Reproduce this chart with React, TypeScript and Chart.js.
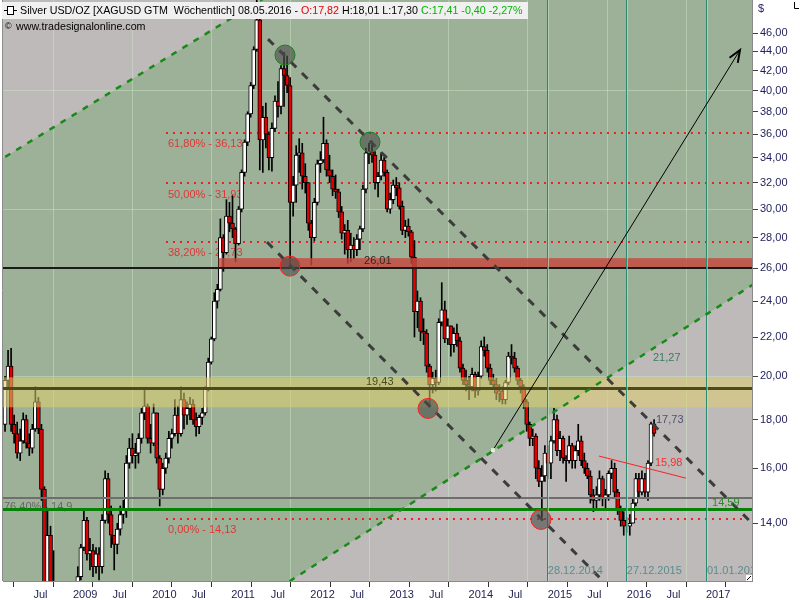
import React, { useEffect, useRef } from "react";
import { Chart, registerables } from "chart.js";

Chart.register(...registerables);

// ---- data: bi-weekly candles of Silver USD/OZ, first bar 22.02.2008 ----
const FIRST_BAR = 2008.141;
const BAR_STEP = 14 / 365.25;
const firstOpen = 17.8;

const highs = [
  20.0, 21.3, 21.4, 18.2, 17.9, 17.6, 18.3, 18.2, 17.4, 17.8,
  19.5, 19.0, 17.8, 15.3, 14.5, 13.9, 13.1, 12.0, 10.8, 10.3,
  10.5, 10.7, 11.3, 11.9, 12.6, 13.3, 14.5, 14.2, 13.5, 13.3,
  13.2, 13.2, 14.3, 15.9, 15.8, 14.6, 13.6, 14.0, 14.6, 14.8,
  16.5, 17.2, 17.4, 17.0, 17.4, 18.5, 19.4, 18.7, 17.8, 18.7,
  18.3, 16.5, 16.2, 16.6, 17.5, 17.6, 18.9, 18.6, 19.5, 19.2,
  18.8, 19.0, 18.9, 18.3, 18.2, 18.5, 19.5, 20.9, 22.0, 24.5,
  25.0, 29.3, 28.2, 30.7, 30.5, 31.0, 28.7, 30.2, 33.0, 35.5,
  38.0, 40.8, 44.5, 49.8, 48.5, 38.5, 38.8, 36.2, 37.0, 39.5,
  40.9, 42.5, 43.9, 43.5, 41.3, 32.5, 35.0, 35.6, 35.2, 33.5,
  32.0, 29.2, 30.8, 33.8, 34.5, 37.5, 35.5, 34.2, 33.0, 32.6,
  31.5, 30.2, 28.9, 29.2, 28.3, 28.0, 28.2, 28.8, 31.8, 34.8,
  35.2, 35.4, 34.5, 32.8, 34.4, 34.0, 33.0, 31.2, 32.2, 32.4,
  32.0, 30.6, 29.2, 29.3, 28.5, 27.8, 24.6, 24.2, 23.0, 22.4,
  20.6, 20.2, 20.3, 23.0, 25.1, 24.0, 23.0, 22.6, 22.5, 22.7,
  22.0, 20.6, 20.3, 20.0, 20.4, 20.2, 20.2, 21.8, 22.0, 21.6,
  20.6, 20.1, 19.9, 19.6, 19.5, 19.8, 21.2, 21.6, 21.2, 20.5,
  19.9, 19.6, 18.9, 17.9, 17.6, 17.4, 16.3, 16.1, 16.9, 16.9,
  17.3, 18.5, 18.2, 17.5, 17.3, 16.5, 17.3, 17.0, 16.9, 17.8,
  17.3, 16.6, 16.2, 15.9, 15.2, 15.3, 15.9, 15.7, 15.2, 15.9,
  16.3, 16.2, 15.2, 14.6, 14.4, 14.2, 14.3, 14.9, 15.8, 15.8,
  15.9, 15.8, 16.3, 17.9, 18.01,
];

const lows = [
  17.5, 19.5, 17.5, 17.0, 16.4, 16.3, 17.0, 16.8, 16.5, 16.6,
  17.5, 17.4, 14.8, 11.5, 11.9, 11.0, 11.0, 10.0, 8.8, 8.9,
  9.3, 9.6, 10.0, 10.8, 11.0, 12.2, 13.1, 12.8, 12.5, 12.3,
  12.4, 12.2, 12.4, 14.0, 14.0, 13.2, 12.5, 13.0, 13.6, 14.0,
  14.2, 16.0, 16.2, 16.0, 16.2, 17.0, 18.0, 17.0, 16.6, 16.9,
  16.2, 14.6, 15.0, 15.8, 16.2, 16.8, 17.3, 17.0, 17.3, 17.6,
  17.8, 18.0, 17.8, 17.3, 17.4, 17.8, 18.2, 19.3, 20.6, 21.8,
  23.6, 24.6, 25.8, 26.9, 28.4, 28.0, 26.4, 27.5, 29.8, 32.5,
  35.0, 37.5, 40.2, 44.0, 33.0, 32.8, 34.8, 33.0, 32.9, 36.2,
  37.5, 37.8, 38.5, 39.8, 26.1, 29.5, 30.5, 32.8, 31.5, 31.2,
  28.5, 26.2, 27.8, 30.3, 32.8, 33.6, 32.5, 32.0, 31.0, 30.8,
  29.4, 27.9, 26.9, 26.3, 26.4, 26.6, 26.8, 27.2, 28.4, 31.2,
  33.5, 33.6, 31.5, 30.9, 32.2, 32.5, 29.8, 29.7, 30.4, 31.0,
  30.0, 28.2, 28.0, 28.1, 26.3, 22.0, 22.5, 21.8, 21.6, 20.2,
  18.6, 19.2, 19.3, 19.6, 22.6, 21.7, 21.6, 21.0, 21.2, 21.5,
  20.2, 19.6, 19.3, 18.9, 19.3, 19.0, 19.1, 19.9, 21.0, 20.2,
  19.6, 19.4, 18.9, 18.8, 18.7, 18.7, 19.6, 20.6, 20.2, 19.6,
  19.2, 18.5, 17.5, 16.9, 16.9, 15.6, 15.3, 14.2, 15.5, 15.6,
  15.6, 17.0, 16.5, 16.3, 16.2, 15.5, 16.2, 16.0, 16.0, 16.5,
  16.1, 15.8, 15.6, 14.7, 14.4, 14.5, 14.8, 14.6, 14.5, 14.8,
  15.6, 14.9, 14.3, 13.9, 13.6, 13.7, 13.6, 14.0, 14.6, 14.9,
  15.0, 14.9, 14.8, 16.1, 17.3,
];

const closes = [
  19.8, 20.5, 17.8, 17.4, 16.6, 17.1, 18.0, 17.0, 16.8, 17.6,
  18.8, 17.6, 15.2, 12.0, 13.6, 11.4, 11.5, 10.5, 9.5, 9.8,
  9.9, 10.2, 11.0, 11.3, 12.3, 13.2, 14.1, 13.0, 13.1, 12.6,
  13.0, 12.6, 14.1, 15.6, 14.3, 13.6, 13.3, 13.8, 14.3, 14.5,
  16.2, 16.8, 16.5, 16.6, 17.2, 18.3, 18.6, 17.2, 17.0, 18.3,
  16.4, 15.2, 16.0, 16.4, 17.2, 17.4, 18.2, 17.4, 18.9, 18.2,
  18.5, 18.7, 18.0, 17.7, 18.1, 18.3, 19.4, 20.7, 21.9, 24.0,
  24.7, 28.0, 27.0, 29.5, 29.0, 28.6, 27.6, 30.0, 32.8, 35.3,
  37.8, 40.5, 44.2, 47.5, 35.5, 37.5, 36.0, 34.0, 36.5, 39.0,
  38.5, 42.2, 41.5, 40.5, 30.5, 31.8, 34.2, 34.4, 32.5, 32.0,
  29.0, 28.0, 30.5, 33.5, 33.8, 35.2, 33.0, 32.5, 31.5, 31.3,
  29.8, 28.3, 28.5, 27.2, 27.5, 27.2, 27.9, 28.6, 31.5, 34.4,
  34.5, 34.2, 32.0, 32.5, 33.8, 32.8, 30.0, 30.7, 31.8, 31.6,
  30.2, 28.5, 28.8, 28.4, 26.7, 23.4, 24.0, 22.3, 22.2, 20.5,
  19.6, 19.9, 19.7, 22.8, 23.5, 21.9, 22.6, 21.6, 22.2, 21.8,
  20.4, 19.8, 19.6, 19.5, 20.1, 19.3, 20.0, 21.5, 21.3, 20.4,
  19.8, 19.6, 19.2, 19.3, 18.9, 19.7, 21.0, 20.9, 20.4, 19.8,
  19.5, 18.8, 17.8, 17.2, 17.3, 16.0, 15.5, 15.7, 16.6, 16.2,
  17.1, 18.0, 16.7, 17.2, 16.4, 16.3, 16.9, 16.3, 16.7, 17.1,
  16.3, 16.0, 15.7, 15.0, 14.8, 15.0, 15.6, 14.9, 15.0, 15.8,
  16.0, 15.1, 14.5, 14.1, 13.9, 13.9, 14.0, 14.7, 15.6, 15.1,
  15.6, 15.1, 16.2, 17.82, 17.41,
];

// ---- axes ----
const X_MIN = 2008.1153;
const X_MAX = 2017.5814;
const Y_MIN = 12.17;
const Y_MAX = 49.84;
const timeTicks = [
  2008.5, 2009, 2009.5, 2010, 2010.5, 2011, 2011.5, 2012, 2012.5,
  2013, 2013.5, 2014, 2014.5, 2015, 2015.5, 2016, 2016.5, 2017,
];
const priceTicks = [14, 16, 18, 20, 22, 24, 26, 28, 30, 32, 34, 36, 38, 40, 42, 44, 46];
const gridPrices = [20, 30, 40];

// ---- drawing tools (date, price) ----
const fibValues = [36.13, 31.93, 27.73, 14.13];
const fibLabels = ["61,80% - 36,13", "50,00% - 31,93", "38,20% - 27,73", "0,00% - 14,13"];
const fibStart = 2010.175;
const supportLevel = 26.01;
const redBand = [26.01, 26.64];
const redBandStart = 2010.84;
const pivotLevel = 19.43;
const yellowBand = [18.55, 19.95];
const fib764Level = 14.9;
const greenLevel = 14.49;
const channelUpper = [[2011.4645, 45.33], [2017.5814, 14.0]];
const channelLower = [[2011.4519, 27.7], [2015.6856, 12.2]];
const greenUpper = [[2008.0774, 33.8], [2010.9842, 47.59]];
const greenLower = [[2011.7425, 12.17], [2017.5814, 24.95]];
const arrowLine = [[2014.3081, 16.72], [2017.4297, 44.14]];
const redTrend = [[2015.6477, 16.48], [2016.7472, 15.62]];
const greenCircles = [[2011.6793, 43.61], [2012.7536, 35.31]];
const redCircles = [[2011.7425, 26.13], [2013.4867, 18.5], [2014.9147, 14.13]];
const markerDates = [2014.988, 2015.986, 2017.0];
const markerLabels = ["28.12.2014", "27.12.2015", "01.01.2017"];
const noteTexts = ["26,01", "19,43", "21,27", "17,73", "15,98", "14,59"];
const notePos = [[2012.678, 26.45], [2012.703, 19.72], [2016.33, 20.9], [2016.368, 17.98], [2016.355, 16.2], [2017.076, 14.7]];
const noteColors = ["#2a2a2a", "#4a4a22", "#3b7a66", "#50506a", "#ff2a2a", "#2a8a2a"];

const FONT = '11px "Liberation Sans", Arial, sans-serif';
const HEADER_FONT = '10.7px "Liberation Sans", Arial, sans-serif';

export default function App() {
  const ref = useRef<HTMLCanvasElement>(null);

  useEffect(() => {
    const canvas = ref.current;
    if (!canvas) return;
    const dates = closes.map((_, i) => FIRST_BAR + i * BAR_STEP);
    const opens = closes.map((_, i) => (i === 0 ? firstOpen : closes[i - 1]));
    const bodies = closes.map((c, i) => ({ x: dates[i], y: [opens[i], c] }));
    const wicks = closes.map((_, i) => ({ x: dates[i], y: [lows[i], highs[i]] }));
    const bodyColors = closes.map((c, i) => (c >= opens[i] ? "#ffffff" : "#e00000"));

    const clipArea = (ctx: any, a: any) => {
      ctx.beginPath();
      ctx.rect(a.left, a.top, a.right - a.left, a.bottom - a.top);
      ctx.clip();
    };

    const overlay = {
      id: "overlay",
      beforeDraw(chart: any) {
        const { ctx, chartArea: a, scales } = chart;
        const xs = scales.x, ys = scales.y;
        const P = (p: number[]) => [xs.getPixelForValue(p[0]), ys.getPixelForValue(p[1])];
        ctx.save();
        ctx.fillStyle = "#ffffff";
        ctx.fillRect(0, 0, chart.width, chart.height);
        clipArea(ctx, a);
        ctx.fillStyle = "#bfbaba";
        ctx.fillRect(a.left, a.top, a.right - a.left, a.bottom - a.top);
        const u1 = P(greenUpper[0]), u2 = P(greenUpper[1]);
        const l1 = P(greenLower[0]), l2 = P(greenLower[1]);
        const yAt = (p1: number[], p2: number[], X: number) => p1[1] + ((p2[1] - p1[1]) * (X - p1[0])) / (p2[0] - p1[0]);
        const L = a.left - 20, R = a.right + 20;
        ctx.fillStyle = "#9db198";
        ctx.beginPath();
        ctx.moveTo(L, yAt(u1, u2, L));
        ctx.lineTo(R, yAt(u1, u2, R));
        ctx.lineTo(R, yAt(l1, l2, R));
        ctx.lineTo(L, yAt(l1, l2, L));
        ctx.closePath();
        ctx.fill();
        ctx.restore();
      },
      beforeDatasetsDraw(chart: any) {
        const { ctx, chartArea: a, scales } = chart;
        const px = (v: number) => scales.x.getPixelForValue(v);
        const py = (v: number) => scales.y.getPixelForValue(v);
        ctx.save();
        clipArea(ctx, a);
        // fibonacci levels (under the candles)
        ctx.strokeStyle = "#ee2020";
        ctx.lineWidth = 2;
        ctx.setLineDash([2, 5]);
        fibValues.forEach((v) => {
          const y = Math.round(py(v));
          ctx.beginPath();
          ctx.moveTo(px(fibStart), y);
          ctx.lineTo(a.right, y);
          ctx.stroke();
        });
        ctx.setLineDash([]);
        ctx.font = FONT;
        ctx.textBaseline = "middle";
        ctx.textAlign = "left";
        ctx.fillStyle = "#e03636";
        fibValues.forEach((v, i) => ctx.fillText(fibLabels[i], px(fibStart) + 2, py(v) + 11));
        ctx.fillStyle = "#666666";
        ctx.fillText("76,40% - 14,9", a.left + 1, py(14.56));
        ctx.restore();
      },
      afterDatasetsDraw(chart: any) {
        const { ctx, chartArea: a, scales } = chart;
        const xs = scales.x, ys = scales.y;
        const px = (v: number) => xs.getPixelForValue(v);
        const py = (v: number) => ys.getPixelForValue(v);
        const P = (p: number[]) => [px(p[0]), py(p[1])];
        const yAt = (p1: number[], p2: number[], X: number) => p1[1] + ((p2[1] - p1[1]) * (X - p1[0])) / (p2[0] - p1[0]);
        ctx.save();
        clipArea(ctx, a);
        const hline = (v: number, x0: number, color: string, w: number) => {
          const y = Math.round(py(v)) + (w % 2 ? 0.5 : 0);
          ctx.strokeStyle = color;
          ctx.lineWidth = w;
          ctx.beginPath();
          ctx.moveTo(x0, y);
          ctx.lineTo(a.right, y);
          ctx.stroke();
        };
        // bands
        ctx.fillStyle = "rgba(222,206,110,0.55)";
        ctx.fillRect(a.left, py(yellowBand[1]), a.right - a.left, py(yellowBand[0]) - py(yellowBand[1]));
        hline(pivotLevel, a.left, "#4a4a1c", 3);
        ctx.fillStyle = "rgba(200,70,60,0.8)";
        ctx.fillRect(px(redBandStart), py(redBand[1]), a.right - px(redBandStart), py(redBand[0]) - py(redBand[1]));
        hline(supportLevel, a.left, "#1a1a1a", 2);
        hline(fib764Level, a.left, "#6e6e6e", 2);
        hline(greenLevel, a.left, "#078207", 3);
        // vertical date markers
        markerDates.forEach((d) => {
          const x = Math.round(px(d)) + 0.5;
          ctx.strokeStyle = "#2a8a70";
          ctx.lineWidth = 1;
          ctx.beginPath();
          ctx.moveTo(x, a.top);
          ctx.lineTo(x, a.bottom);
          ctx.stroke();
          ctx.strokeStyle = "rgba(190,225,200,0.6)";
          ctx.beginPath();
          ctx.moveTo(x + 1, a.top);
          ctx.lineTo(x + 1, a.bottom);
          ctx.stroke();
        });
        // green dashed channel lines
        const L = a.left - 20, R = a.right + 20;
        [greenUpper, greenLower].forEach((ln) => {
          const p1 = P(ln[0]), p2 = P(ln[1]);
          ctx.strokeStyle = "#178a17";
          ctx.lineWidth = 2.5;
          ctx.setLineDash([6, 7]);
          ctx.beginPath();
          ctx.moveTo(L, yAt(p1, p2, L));
          ctx.lineTo(R, yAt(p1, p2, R));
          ctx.stroke();
        });
        // gray dashed trend channel
        [channelUpper, channelLower].forEach((ln, k) => {
          const p1 = P(ln[0]), p2 = P(ln[1]);
          const endX = k === 0 ? p2[0] : p2[0] + 30;
          ctx.strokeStyle = "#3c3c3c";
          ctx.lineWidth = 3;
          ctx.setLineDash([8, 8]);
          ctx.beginPath();
          ctx.moveTo(p1[0], p1[1]);
          ctx.lineTo(endX, yAt(p1, p2, endX));
          ctx.stroke();
        });
        ctx.setLineDash([]);
        // arrow
        const a1 = P(arrowLine[0]), a2 = P(arrowLine[1]);
        ctx.strokeStyle = "#000000";
        ctx.lineWidth = 1;
        ctx.beginPath();
        ctx.moveTo(a1[0], a1[1]);
        ctx.lineTo(a2[0], a2[1]);
        ctx.stroke();
        const ang = Math.atan2(a2[1] - a1[1], a2[0] - a1[0]);
        ctx.lineWidth = 2;
        ctx.beginPath();
        ctx.moveTo(a2[0] - 13 * Math.cos(ang - 0.38), a2[1] - 13 * Math.sin(ang - 0.38));
        ctx.lineTo(a2[0], a2[1]);
        ctx.lineTo(a2[0] - 13 * Math.cos(ang + 0.38), a2[1] - 13 * Math.sin(ang + 0.38));
        ctx.stroke();
        ctx.fillStyle = "#dff0d0";
        ctx.fillRect(a1[0] - 2, a1[1] - 2, 4, 4);
        // red trend line
        const r1 = P(redTrend[0]), r2 = P(redTrend[1]);
        ctx.strokeStyle = "#ff2020";
        ctx.lineWidth = 1;
        ctx.beginPath();
        ctx.moveTo(r1[0], r1[1]);
        ctx.lineTo(r2[0], r2[1]);
        ctx.stroke();
        // circles
        const circle = (p: number[], stroke: string) => {
          const c = P(p);
          ctx.beginPath();
          ctx.arc(c[0], c[1], 10, 0, Math.PI * 2);
          ctx.fillStyle = "rgba(75,78,75,0.62)";
          ctx.fill();
          ctx.strokeStyle = stroke;
          ctx.lineWidth = 1;
          ctx.stroke();
        };
        greenCircles.forEach((p) => circle(p, "#1f7f1f"));
        redCircles.forEach((p) => circle(p, "#ff2020"));
        // texts
        ctx.font = FONT;
        ctx.textBaseline = "middle";
        ctx.textAlign = "left";
        noteTexts.forEach((t, i) => {
          ctx.fillStyle = noteColors[i];
          ctx.fillText(t, px(notePos[i][0]), py(notePos[i][1]));
        });
        ctx.fillStyle = "#5a8c8c";
        markerDates.forEach((d, i) => ctx.fillText(markerLabels[i], px(d) + 1, py(12.46)));
        ctx.restore();
      },
      afterDraw(chart: any) {
        const { ctx, chartArea: a } = chart;
        ctx.save();
        // left border
        ctx.strokeStyle = "#8c8c8c";
        ctx.lineWidth = 1;
        ctx.beginPath();
        ctx.moveTo(a.left - 0.5, a.top);
        ctx.lineTo(a.left - 0.5, a.bottom);
        ctx.stroke();
        // header box
        ctx.fillStyle = "#f0f0f0";
        ctx.fillRect(2, 2, 526, 17);
        ctx.strokeStyle = "#000000";
        ctx.beginPath();
        ctx.moveTo(4, 10.5);
        ctx.lineTo(17, 10.5);
        ctx.stroke();
        ctx.fillStyle = "#ffffff";
        ctx.fillRect(7.5, 6.5, 6, 8);
        ctx.strokeRect(7.5, 6.5, 6, 8);
        ctx.font = HEADER_FONT;
        ctx.textBaseline = "middle";
        ctx.textAlign = "left";
        const parts: [string, string][] = [
          ["Silver USD/OZ [XAGUSD GTM  W\u00f6chentlich] 08.05.2016 - ", "#000000"],
          ["O:17,82", "#e00000"],
          [" H:18,01 L:17,30 ", "#000000"],
          ["C:17,41 -0,40 -2,27%", "#00b400"],
        ];
        let x = 20;
        parts.forEach(([t, c]) => {
          ctx.fillStyle = c;
          ctx.fillText(t, x, 11);
          x += ctx.measureText(t).width;
        });
        ctx.fillStyle = "#000000";
        ctx.font = '9px "Liberation Sans", Arial, sans-serif';
        ctx.fillText("\u00a9", 5, 27);
        ctx.font = HEADER_FONT;
        ctx.fillText("www.tradesignalonline.com", 16, 27.5);
        // $ sign
        ctx.font = FONT;
        ctx.fillStyle = "#1e1e5a";
        ctx.fillText("$", 758, 9);
        // small corner marks
        ctx.strokeStyle = "#000000";
        ctx.beginPath();
        ctx.moveTo(794.5, 2);
        ctx.lineTo(794.5, 8.5);
        ctx.lineTo(799, 8.5);
        ctx.stroke();
        ctx.fillStyle = "#ffffff";
        ctx.fillRect(a.right - 6, a.bottom - 6, 6, 6);
        ctx.beginPath();
        ctx.moveTo(a.right - 5, a.bottom - 1);
        ctx.lineTo(a.right - 1, a.bottom - 5);
        ctx.stroke();
        ctx.restore();
      },
    };

    const chart = new Chart(canvas, {
      type: "bar",
      data: {
        datasets: [
          {
            data: bodies as any,
            backgroundColor: bodyColors,
            borderColor: "#000000",
            borderWidth: 1,
            borderSkipped: false,
            barThickness: 4,
            grouped: false,
            order: 1,
          } as any,
          {
            data: wicks as any,
            backgroundColor: "#000000",
            borderWidth: 0,
            barThickness: 1,
            grouped: false,
            order: 2,
          } as any,
        ],
      },
      options: {
        responsive: false,
        animation: false,
        events: [],
        layout: { padding: { left: 3, top: 0, right: 0, bottom: 0 } },
        plugins: { legend: { display: false }, tooltip: { enabled: false } },
        scales: {
          x: {
            type: "linear",
            position: "bottom",
            min: X_MIN,
            max: X_MAX,
            offset: false,
            afterBuildTicks: (s: any) => {
              s.ticks = timeTicks.map((v) => ({ value: v }));
            },
            afterFit: (s: any) => {
              s.height = 19;
              s.paddingLeft = 0;
              s.paddingRight = 0;
            },
            ticks: {
              autoSkip: false,
              maxRotation: 0,
              minRotation: 0,
              align: "start",
              padding: 1,
              color: "#1e1e50",
              font: { family: '"Liberation Sans", Arial, sans-serif', size: 11 },
              callback: (v: any) => (Number.isInteger(Number(v)) ? String(v) : "Jul"),
            },
            grid: {
              color: (c: any) =>
                c.tick && Number.isInteger(c.tick.value) ? "rgba(205,235,200,0.45)" : "rgba(0,0,0,0)",
              tickColor: "#303030",
              tickLength: 6,
            },
            border: { color: "#8a8a8a" },
          } as any,
          y: {
            type: "logarithmic",
            position: "right",
            min: Y_MIN,
            max: Y_MAX,
            afterBuildTicks: (s: any) => {
              s.ticks = priceTicks.map((v) => ({ value: v }));
            },
            afterFit: (s: any) => {
              s.width = 48;
              s.paddingTop = 0;
              s.paddingBottom = 0;
            },
            ticks: {
              padding: 2,
              color: "#1e1e5a",
              font: { family: '"Liberation Sans", Arial, sans-serif', size: 11 },
              callback: (v: any) => Number(v).toFixed(2).replace(".", ","),
            },
            grid: {
              color: (c: any) =>
                c.tick && gridPrices.includes(c.tick.value) ? "rgba(205,235,200,0.45)" : "rgba(0,0,0,0)",
              tickColor: "#404040",
              tickLength: 6,
            },
            border: { color: "#8a8a8a" },
          } as any,
        },
      },
      plugins: [overlay],
    });
    return () => chart.destroy();
  }, []);

  return (
    <div style={{ position: "fixed", left: 0, top: 0, width: 800, height: 600, background: "#ffffff" }}>
      <canvas ref={ref} width={800} height={600} style={{ display: "block" }} />
    </div>
  );
}
